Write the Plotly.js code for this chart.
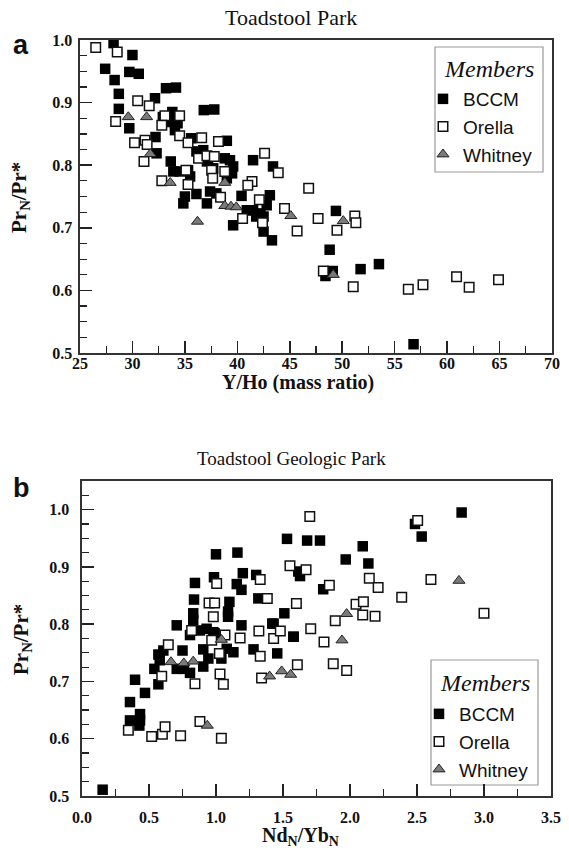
<!DOCTYPE html>
<html>
<head>
<meta charset="utf-8">
<script src="https://cdn.plot.ly/plotly-3.0.1.min.js"></script>
<style>
  html, body { margin: 0; padding: 0; background: #fff; }
  #chart { width: 569px; height: 862px; }
</style>
</head>
<body>
<div id="chart"></div>
<script>
// Panel a: Toadstool Park, PrN/Pr* against Y/Ho (mass ratio)
const aBccmX = [28.2, 30.0, 27.4, 29.7, 30.6, 28.3, 28.7, 33.2, 34.15, 32.15, 28.7, 29.7, 36.8, 37.8, 33.8, 32.9, 33.6, 34.3, 32.2, 32.3,
  35.6, 39.0, 36.1, 36.75, 36.4, 37.2, 38.8, 39.3, 39.6, 39.5, 39.0, 37.7, 37.1, 33.65, 33.9, 34.5, 35.5, 35.3, 41.5, 43.4,
  35.0, 34.85, 36.1, 37.1, 37.4, 38.0, 40.4, 43.1, 40.9, 41.5, 42.2, 42.5, 41.8, 42.8, 39.6, 42.5, 43.3, 49.4, 48.8, 53.5,
  51.75, 48.4, 49.1, 56.8, 34.05];
const aBccmY = [0.995, 0.976, 0.954, 0.949, 0.946, 0.936, 0.914, 0.923, 0.924, 0.907, 0.890, 0.859, 0.888, 0.889, 0.885, 0.877, 0.869, 0.867, 0.845, 0.819,
  0.843, 0.839, 0.822, 0.824, 0.814, 0.808, 0.811, 0.808, 0.798, 0.787, 0.779, 0.795, 0.806, 0.806, 0.790, 0.790, 0.782, 0.792, 0.808, 0.798,
  0.750, 0.739, 0.754, 0.739, 0.758, 0.755, 0.751, 0.752, 0.728, 0.728, 0.723, 0.718, 0.718, 0.736, 0.704, 0.694, 0.680, 0.727, 0.665, 0.642,
  0.634, 0.623, 0.631, 0.514, 0.856];

const aOrellaX = [26.5, 28.55, 28.4, 30.5, 31.6, 33.1, 34.5, 32.8, 30.2, 31.2, 31.4, 31.1, 34.5, 35.3, 36.6, 38.2, 36.3, 37.1, 37.8, 37.55,
  37.65, 38.8, 35.1, 32.8, 35.3, 42.6, 43.9, 41.4, 41.0, 38.4, 42.1, 40.5, 42.4, 44.5, 45.7, 46.8, 47.7, 51.2, 51.3, 49.5,
  48.2, 51.05, 56.3, 57.7, 60.9, 62.1, 64.9];
const aOrellaY = [0.988, 0.981, 0.870, 0.903, 0.895, 0.879, 0.879, 0.864, 0.836, 0.840, 0.833, 0.806, 0.847, 0.836, 0.844, 0.838, 0.811, 0.815, 0.814, 0.792,
  0.779, 0.790, 0.792, 0.775, 0.769, 0.819, 0.788, 0.774, 0.768, 0.749, 0.745, 0.715, 0.708, 0.731, 0.695, 0.763, 0.715, 0.719, 0.708, 0.696,
  0.631, 0.606, 0.602, 0.609, 0.622, 0.605, 0.617];

const aWhitneyX = [29.6, 31.35, 31.7, 33.6, 38.8, 38.8, 39.4, 39.9, 36.2, 45.1, 50.1, 49.15];
const aWhitneyY = [0.877, 0.877, 0.818, 0.772, 0.772, 0.735, 0.734, 0.733, 0.710, 0.719, 0.711, 0.625];

// Panel b: Toadstool Geologic Park, PrN/Pr* against NdN/YbN
const bBccmX = [0.154, 0.358, 0.396, 0.47, 0.358, 0.433, 0.433, 0.428, 0.54, 0.57, 0.58, 0.57, 0.607, 0.707, 0.76, 0.75, 0.806, 0.707, 0.806, 0.905,
  0.905, 0.943, 0.99, 1.04, 1.08, 1.13, 1.19, 1.28, 1.43, 1.457, 1.577, 0.83, 0.83, 0.836, 0.843, 0.88, 0.93, 0.98, 1.0, 1.16,
  0.985, 1.2, 1.155, 1.19, 1.30, 1.10, 1.09, 1.09, 1.316, 1.53, 1.68, 1.776, 2.095, 1.968, 2.137, 2.833, 2.485, 2.535, 1.614, 1.627,
  1.80, 1.51, 1.42, 1.58];
const bBccmY = [0.511, 0.664, 0.703, 0.680, 0.632, 0.643, 0.632, 0.623, 0.722, 0.695, 0.737, 0.747, 0.754, 0.722, 0.722, 0.754, 0.781, 0.798, 0.715, 0.756,
  0.726, 0.740, 0.784, 0.740, 0.757, 0.751, 0.798, 0.756, 0.801, 0.749, 0.778, 0.819, 0.807, 0.843, 0.872, 0.789, 0.792, 0.786, 0.922, 0.925,
  0.882, 0.889, 0.870, 0.860, 0.886, 0.839, 0.822, 0.813, 0.845, 0.949, 0.946, 0.946, 0.936, 0.913, 0.906, 0.995, 0.975, 0.953, 0.892, 0.884,
  0.861, 0.819, 0.801, 0.778];

const bOrellaX = [0.346, 0.52, 0.60, 0.62, 0.736, 0.88, 1.04, 0.595, 0.644, 0.843, 0.818, 0.968, 1.025, 1.03, 1.055, 1.067, 1.18, 1.32, 1.33, 1.34,
  1.43, 1.48, 1.607, 1.707, 1.806, 1.875, 1.975, 1.89, 1.70, 2.505, 1.552, 1.672, 1.33, 1.846, 2.144, 2.21, 2.604, 1.383, 1.60, 2.386,
  2.045, 2.10, 2.095, 2.187, 3.0, 1.005, 0.948, 0.99, 0.98];
const bOrellaY = [0.615, 0.604, 0.608, 0.621, 0.605, 0.630, 0.601, 0.709, 0.764, 0.696, 0.789, 0.772, 0.749, 0.713, 0.695, 0.781, 0.776, 0.788, 0.744, 0.706,
  0.775, 0.788, 0.729, 0.792, 0.769, 0.731, 0.719, 0.806, 0.988, 0.981, 0.902, 0.895, 0.878, 0.868, 0.880, 0.864, 0.878, 0.845, 0.836, 0.847,
  0.835, 0.839, 0.816, 0.814, 0.819, 0.871, 0.837, 0.837, 0.813];

const bWhitneyX = [0.935, 0.664, 0.76, 0.83, 1.04, 1.40, 1.49, 1.557, 1.94, 1.975, 2.813];
const bWhitneyY = [0.623, 0.734, 0.732, 0.735, 0.773, 0.709, 0.718, 0.712, 0.772, 0.818, 0.876];

const memberNames = ['BCCM', 'Orella', 'Whitney'];

const serif = 'Liberation Serif';
const sans = 'Liberation Sans';

const markerStyles = [
  { symbol: 'square', size: 10.5, color: '#000', line: { color: '#000', width: 0 } },
  { symbol: 'square', size: 9.5, color: '#fff', line: { color: '#111', width: 1.5 } },
  { symbol: 'triangle-up', size: 10.5, color: '#7a7a7a', line: { color: '#222', width: 1 } }
];

function series(xs, ys, idx, xa, ya, legendId) {
  return {
    type: 'scatter', mode: 'markers', x: xs, y: ys,
    name: memberNames[idx], xaxis: xa, yaxis: ya, legend: legendId,
    marker: markerStyles[idx], hoverinfo: 'skip'
  };
}

const data = [
  series(aBccmX, aBccmY, 0, 'x', 'y', 'legend'),
  series(aOrellaX, aOrellaY, 1, 'x', 'y', 'legend'),
  series(aWhitneyX, aWhitneyY, 2, 'x', 'y', 'legend'),
  series(bBccmX, bBccmY, 0, 'x2', 'y2', 'legend2'),
  series(bOrellaX, bOrellaY, 1, 'x2', 'y2', 'legend2'),
  series(bWhitneyX, bWhitneyY, 2, 'x2', 'y2', 'legend2')
];

const W = 569, H = 862;
const px = v => v / W;
const py = v => 1 - v / H;

const tickFont = { family: serif, size: 16, weight: 'bold', color: '#111' };

function axis(domain, range, dtick, minorDtick, fmt, anchor, standoff) {
  return {
    domain: domain, range: range, anchor: anchor,
    dtick: dtick, tick0: 0, tickformat: fmt,
    ticks: 'inside', ticklen: 12, tickwidth: 1.5, tickcolor: '#222',
    minor: { ticks: 'inside', ticklen: 7, tickwidth: 1.2, tickcolor: '#222', dtick: minorDtick },
    showline: true, linecolor: '#333', linewidth: 1.6, mirror: true,
    showgrid: false, zeroline: false, fixedrange: true,
    ticklabelstandoff: standoff,
    tickfont: tickFont
  };
}

function legendBox(x, y) {
  return {
    x: x, y: y, xanchor: 'left', yanchor: 'top',
    bgcolor: 'rgba(0,0,0,0)', borderwidth: 0,
    font: { family: sans, size: 19, weight: 'normal', color: '#111' },
    tracegroupgap: 0, itemwidth: 30
  };
}

function frame(x0, y0, x1, y1) {
  return {
    type: 'rect', xref: 'paper', yref: 'paper', layer: 'below',
    x0: px(x0), x1: px(x1), y0: py(y1), y1: py(y0),
    line: { color: '#9a9a9a', width: 1.2 }, fillcolor: '#fff'
  };
}

function label(text, x, y, size, extra) {
  return Object.assign({
    text: text, x: px(x), y: py(y), xref: 'paper', yref: 'paper',
    xanchor: 'center', yanchor: 'middle', showarrow: false,
    font: { family: serif, size: size, weight: 'normal', color: '#111' }
  }, extra || {});
}

const layout = {
  width: W, height: H,
  margin: { l: 0, r: 0, t: 0, b: 0 },
  paper_bgcolor: '#fff', plot_bgcolor: '#fff',
  font: { family: serif, size: 16, weight: 'bold', color: '#111' },
  showlegend: true,
  xaxis: axis([px(80), px(552)], [25, 70], 5, 2.5, 'd', 'y', -5),
  yaxis: axis([py(353), py(40)], [0.5, 1.0], 0.1, 0.025, '.1f', 'x', 3),
  xaxis2: axis([px(82), px(551)], [0, 3.5], 0.5, 0.25, '.1f', 'y2', 6),
  yaxis2: axis([py(796), py(481)], [0.5, 1.05], 0.1, 0.025, '.1f', 'x2', 8),
  legend: legendBox(px(423), py(80)),
  legend2: legendBox(px(419), py(695)),
  shapes: [
    frame(435, 47, 543, 172),
    frame(431, 660, 538, 785)
  ],
  annotations: [
    label('Toadstool Park', 291, 18, 22),
    label('Toadstool Geologic Park', 291, 458, 19),
    label('Members', 489, 69, 24, { font: { family: serif, size: 24, style: 'italic', weight: 'normal', color: '#111' } }),
    label('Members', 484.5, 683, 24, { font: { family: serif, size: 24, style: 'italic', weight: 'normal', color: '#111' } }),
    label('a', 21, 45, 26, { font: { family: sans, size: 27, weight: 'bold', color: '#111' } }),
    label('b', 21, 488, 26, { font: { family: sans, size: 27, weight: 'bold', color: '#111' } }),
    label('Y/Ho (mass ratio)', 298, 382, 20, { font: { family: serif, size: 20, weight: 'bold', color: '#111' } }),
    label('Nd<sub>N</sub>/Yb<sub>N</sub>', 300, 836, 20, { font: { family: serif, size: 20, weight: 'bold', color: '#111' } }),
    label('Pr<sub>N</sub>/Pr*', 20, 198, 21, { textangle: -90, font: { family: serif, size: 21, weight: 'bold', color: '#111' } }),
    label('Pr<sub>N</sub>/Pr*', 22, 640, 21, { textangle: -90, font: { family: serif, size: 21, weight: 'bold', color: '#111' } })
  ]
};

Plotly.newPlot('chart', data, layout, { staticPlot: true, displayModeBar: false });
</script>
</body>
</html>
